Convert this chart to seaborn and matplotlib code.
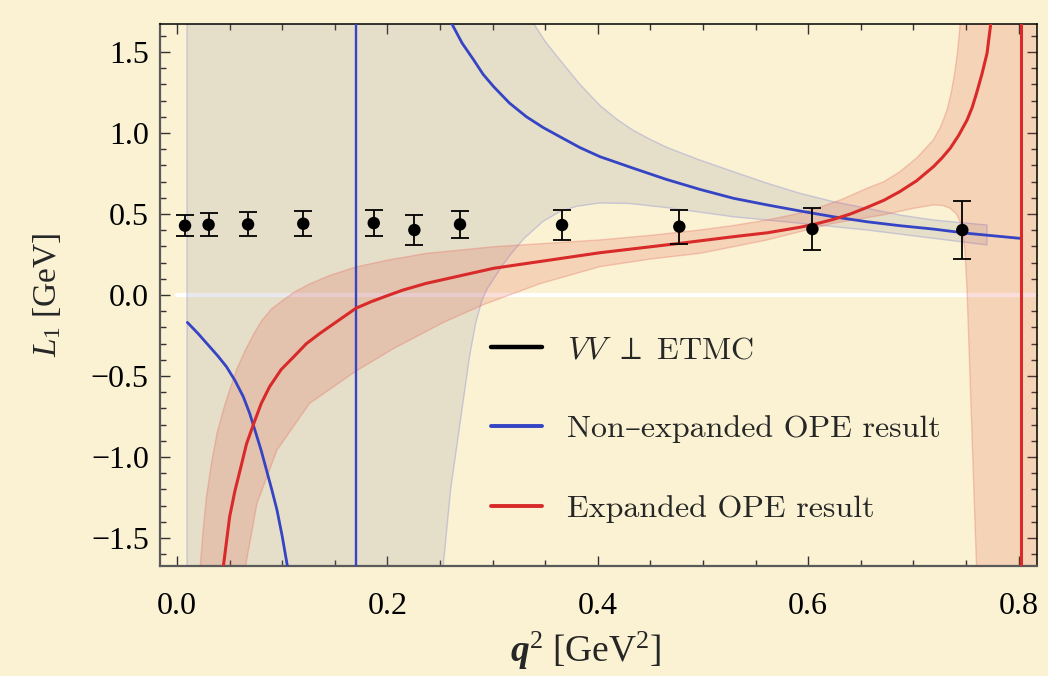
import matplotlib
matplotlib.use("Agg")
import matplotlib.pyplot as plt
from matplotlib.font_manager import FontProperties
from matplotlib.lines import Line2D
from matplotlib.ticker import MultipleLocator, FuncFormatter
import seaborn as sns

# lattice data: VV perp, ETMC
q2_lat = [0.0076, 0.030, 0.0675, 0.120, 0.187, 0.2256, 0.269, 0.366, 0.4775, 0.604, 0.7465]
L1_lat = [0.428, 0.434, 0.436, 0.440, 0.444, 0.401, 0.436, 0.432, 0.422, 0.407, 0.401]
L1_err = [0.063, 0.072, 0.074, 0.077, 0.078, 0.093, 0.084, 0.093, 0.105, 0.131, 0.178]

# non-expanded OPE curve, both sides of the pole
q2_ne_left = [0.0098, 0.020, 0.031, 0.039, 0.047, 0.055, 0.063, 0.069, 0.074, 0.080,
              0.085, 0.090, 0.095, 0.100, 0.105, 0.111]
L1_ne_left = [-0.169, -0.238, -0.319, -0.378, -0.443, -0.527, -0.628, -0.730, -0.833, -0.960,
              -1.080, -1.200, -1.327, -1.490, -1.677, -1.9]
q2_ne_right = [0.246, 0.261, 0.271, 0.282, 0.291, 0.301, 0.316, 0.332, 0.348, 0.364, 0.383,
               0.402, 0.434, 0.465, 0.497, 0.529, 0.561, 0.592, 0.624, 0.656, 0.687,
               0.719, 0.751, 0.801]
L1_ne_right = [1.9, 1.677, 1.555, 1.451, 1.362, 1.286, 1.185, 1.101, 1.034, 0.977, 0.910,
               0.854, 0.782, 0.714, 0.652, 0.597, 0.556, 0.519, 0.483, 0.452, 0.428,
               0.407, 0.381, 0.350]
q2_ne_pole = 0.17

# non-expanded band edges
ne_band_start = 0.0095
ne_hi_q2 = [0.324, 0.339, 0.350, 0.364, 0.383, 0.402, 0.418, 0.434, 0.450, 0.465, 0.497,
            0.529, 0.561, 0.592, 0.624, 0.656, 0.687, 0.719, 0.770]
ne_hi = [1.9, 1.677, 1.565, 1.451, 1.300, 1.170, 1.085, 1.015, 0.960, 0.913, 0.833,
         0.761, 0.690, 0.628, 0.576, 0.535, 0.494, 0.463, 0.432]
ne_lo_q2 = [0.250, 0.253, 0.260, 0.269, 0.278, 0.284, 0.290, 0.295, 0.301, 0.309, 0.317,
            0.330, 0.348, 0.364, 0.380, 0.402, 0.430, 0.465, 0.529, 0.592, 0.656, 0.719, 0.770]
ne_lo = [-1.9, -1.677, -1.204, -0.792, -0.381, -0.170, -0.030, 0.040, 0.100, 0.180, 0.250,
         0.350, 0.455, 0.515, 0.548, 0.568, 0.565, 0.540, 0.483, 0.443, 0.401, 0.350, 0.309]

# expanded OPE curve
q2_ex = [0.040, 0.044, 0.050, 0.055, 0.060, 0.066, 0.073, 0.080, 0.088, 0.099, 0.111, 0.123,
         0.136, 0.170, 0.185, 0.200, 0.215, 0.237, 0.301, 0.402, 0.478, 0.529, 0.561, 0.592,
         0.608, 0.624, 0.640, 0.656, 0.672, 0.687, 0.703, 0.719, 0.727, 0.735, 0.743, 0.751,
         0.756, 0.760, 0.765, 0.770, 0.774, 0.778]
L1_ex = [-1.9, -1.677, -1.369, -1.210, -1.080, -0.920, -0.792, -0.670, -0.566, -0.460, -0.381, -0.300,
         -0.236, -0.082, -0.040, -0.004, 0.031, 0.072, 0.165, 0.261, 0.319, 0.360, 0.384, 0.418,
         0.440, 0.467, 0.500, 0.541, 0.585, 0.638, 0.705, 0.792, 0.845, 0.906, 0.985, 1.080,
         1.160, 1.245, 1.360, 1.492, 1.698, 1.9]
q2_ex_pole = 0.802

# expanded band edges
ex_hi_q2 = [0.019, 0.022, 0.025, 0.028, 0.033, 0.038, 0.044, 0.050, 0.057, 0.065, 0.073,
            0.081, 0.090, 0.101, 0.112, 0.126, 0.145, 0.170, 0.200, 0.237, 0.301, 0.402,
            0.450, 0.497, 0.530, 0.561, 0.585, 0.608, 0.632, 0.656, 0.672, 0.687, 0.703,
            0.719, 0.726, 0.732, 0.736, 0.739, 0.742, 0.744, 0.746]
ex_hi = [-1.9, -1.677, -1.440, -1.245, -1.030, -0.854, -0.710, -0.586, -0.455, -0.340, -0.240,
         -0.154, -0.085, -0.031, 0.020, 0.068, 0.120, 0.173, 0.215, 0.257, 0.298, 0.340,
         0.368, 0.401, 0.430, 0.463, 0.495, 0.535, 0.590, 0.659, 0.700, 0.760, 0.845,
         0.957, 1.040, 1.142, 1.250, 1.360, 1.500, 1.640, 1.9]
ex_lo_q2 = [0.063, 0.065, 0.076, 0.095, 0.126, 0.170, 0.206, 0.253, 0.291, 0.345, 0.402,
            0.450, 0.497, 0.561, 0.624, 0.671, 0.700, 0.719, 0.728, 0.735, 0.741, 0.746,
            0.749, 0.751, 0.760, 0.761]
ex_lo = [-1.9, -1.677, -1.286, -0.957, -0.669, -0.470, -0.330, -0.170, -0.060, 0.070, 0.175,
         0.222, 0.257, 0.340, 0.443, 0.494, 0.535, 0.556, 0.553, 0.535, 0.500, 0.430,
         0.280, 0.031, -1.673, -1.9]
ex_band_end = 0.83

legend_labels = [r"$VV\ \perp\ \mathrm{ETMC}$", "Non\u2013expanded OPE result", "Expanded OPE result"]

BG = "#faf2d3"
BLUE = "#3444c4"
RED = "#d92a2a"
OFF = 1.9  # beyond the plot frame

sns.set_style("ticks", rc={"axes.facecolor": BG, "figure.facecolor": BG})
plt.rcParams["font.family"] = ["Liberation Serif", "DejaVu Serif"]
plt.rcParams["mathtext.fontset"] = "custom"
plt.rcParams["mathtext.rm"] = "Liberation Serif"
plt.rcParams["mathtext.it"] = "Liberation Serif:italic"
plt.rcParams["mathtext.bf"] = "Liberation Serif:bold"
has_bfit = "mathtext.bfit" in plt.rcParams
if has_bfit:
    plt.rcParams["mathtext.bfit"] = "Liberation Serif:bold:italic"

fig = plt.figure(figsize=(10.48, 6.76), dpi=100)
ax = fig.add_axes([160 / 1048, 1 - 566 / 676, 877 / 1048, 542 / 676])

# zero line
ax.axhline(0, xmin=0.019, color="white", lw=3, zorder=1)

# bands
gx = [ne_band_start, ne_band_start] + ne_hi_q2 + ne_lo_q2[::-1]
gy = [-OFF, OFF] + ne_hi + ne_lo[::-1]
ax.fill(gx, gy, facecolor=(0.5, 0.5, 0.6, 0.17), edgecolor=(0.6, 0.6, 0.85, 0.45),
        lw=1.0, zorder=2)
rx = ex_hi_q2 + [ex_band_end, ex_band_end] + ex_lo_q2[::-1]
ry = ex_hi + [OFF, -OFF] + ex_lo[::-1]
ax.fill(rx, ry, facecolor=(0.87, 0.2, 0.15, 0.16), edgecolor=(0.9, 0.45, 0.4, 0.35),
        lw=1.0, zorder=2)

# curves
ax.axvline(q2_ne_pole, color=BLUE, lw=1.7, zorder=3)
sns.lineplot(x=q2_ne_left, y=L1_ne_left, sort=False, color=BLUE, lw=2.0, ax=ax, zorder=3)
sns.lineplot(x=q2_ne_right, y=L1_ne_right, sort=False, color=BLUE, lw=2.0, ax=ax, zorder=3)
sns.lineplot(x=q2_ex, y=L1_ex, sort=False, color=RED, lw=2.2, ax=ax, zorder=4)
ax.axvline(q2_ex_pole, color=RED, lw=2.2, zorder=4)

# lattice points
ax.errorbar(q2_lat, L1_lat, yerr=L1_err, fmt="none", ecolor="black", elinewidth=1.3,
            capsize=6.5, capthick=1.3, zorder=5)
sns.scatterplot(x=q2_lat, y=L1_lat, color="black", s=80, edgecolor="none", ax=ax, zorder=6)

ax.set_xlim(-0.0162, 0.8175)
ax.set_ylim(-1.673, 1.673)

ax.xaxis.set_major_locator(MultipleLocator(0.2))
ax.xaxis.set_minor_locator(MultipleLocator(0.05))
ax.yaxis.set_major_locator(MultipleLocator(0.5))
ax.yaxis.set_minor_locator(MultipleLocator(0.1))
fmt = FuncFormatter(lambda v, _: f"{abs(v) if abs(v) < 1e-9 else v:.1f}".replace("-", "\u2212"))
ax.xaxis.set_major_formatter(fmt)
ax.yaxis.set_major_formatter(fmt)
ax.tick_params(which="both", direction="in", top=True, right=True,
               labeltop=False, labelright=False, colors="#333333", labelcolor="black",
               labelsize=23)
ax.tick_params(which="major", length=7, width=1.0, pad=8)
ax.tick_params(axis="x", which="major", pad=19)
ax.tick_params(which="minor", length=4.3, width=1.0)

for side in ["left", "bottom"]:
    ax.spines[side].set_color("#5a5a5a")
    ax.spines[side].set_linewidth(1.6)
for side in ["top", "right"]:
    ax.spines[side].set_color("black")
    ax.spines[side].set_linewidth(1.1)

if has_bfit:
    xlab = r"$\mathbfit{q}^2\ [\mathrm{GeV}^2]$"
else:
    xlab = r"$\mathbf{q}^2\ [\mathrm{GeV}^2]$"
ax.set_xlabel(xlab, fontsize=27)
ax.xaxis.set_label_coords(0.485, -0.118)
ax.set_ylabel(r"$L_1\ [\mathrm{GeV}]$", fontsize=24, labelpad=20)

handles = [Line2D([], [], color="black", lw=3.2),
           Line2D([], [], color=BLUE, lw=2.8),
           Line2D([], [], color=RED, lw=2.8)]
leg_font = FontProperties(family=["cmr10", "DejaVu Serif"], size=23, math_fontfamily="cm")
ax.legend(handles, legend_labels, loc="upper left", bbox_to_anchor=(0.377, 0.425),
          frameon=False, prop=leg_font, handlelength=1.6, handletextpad=0.78,
          labelspacing=1.6, borderpad=0, borderaxespad=0)

fig.savefig("out.png", dpi=100)
